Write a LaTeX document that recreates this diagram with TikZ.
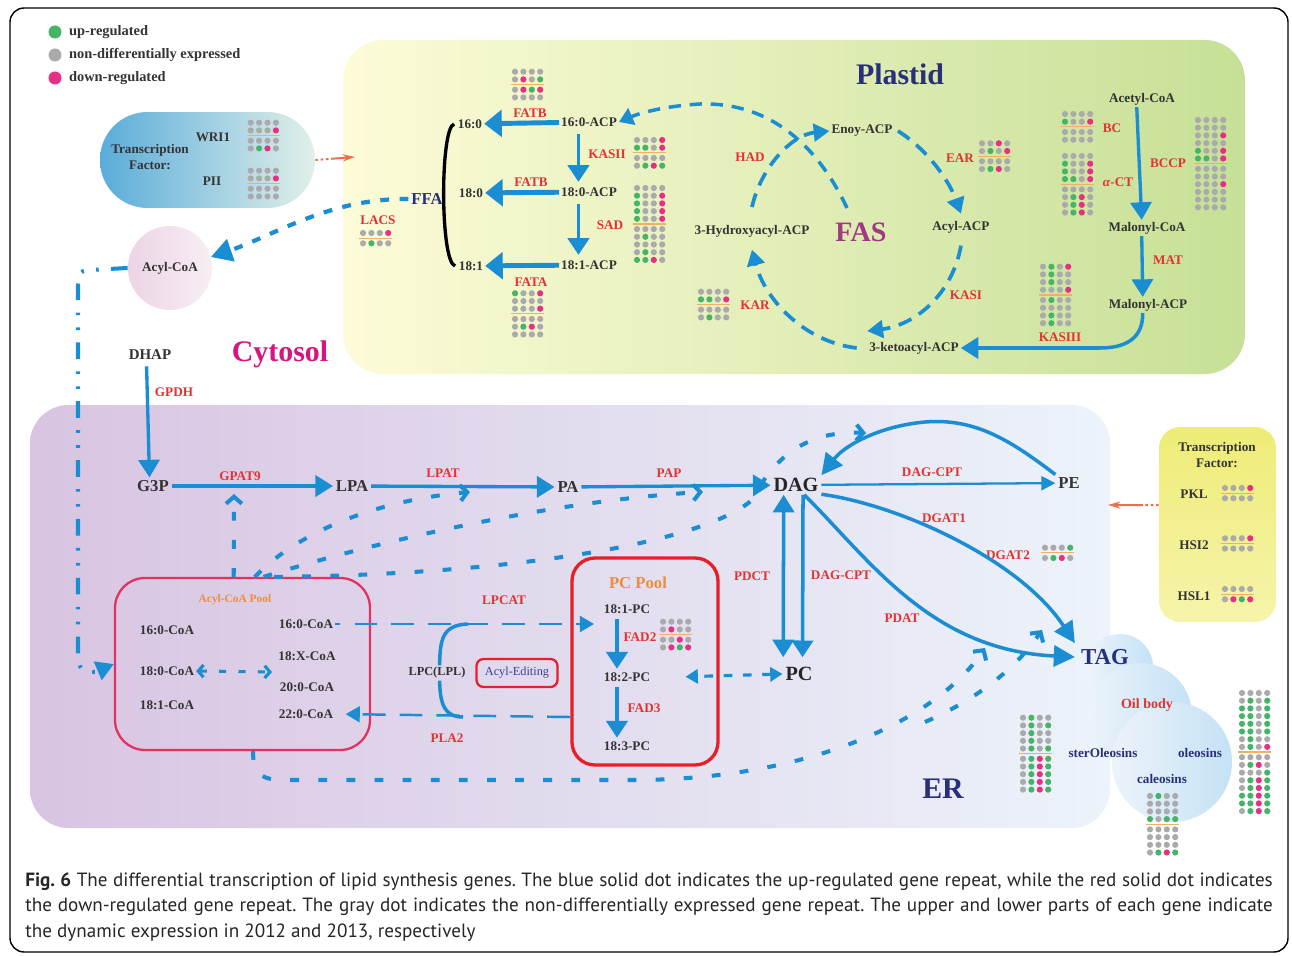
\documentclass[tikz,border=0pt]{standalone}
\usepackage{fontspec}
\setmainfont{Liberation Serif}
\newfontfamily\capfont{PT Sans}
\usetikzlibrary{arrows.meta}

\definecolor{flowblue}{RGB}{27,141,210}
\definecolor{enzred}{RGB}{226,50,50}
\definecolor{navy}{RGB}{40,48,122}
\definecolor{editnavy}{RGB}{62,62,150}
\definecolor{dotg}{RGB}{170,170,172}
\definecolor{dotu}{RGB}{70,180,102}
\definecolor{dotd}{RGB}{230,48,132}
\definecolor{sepor}{RGB}{240,176,96}
\definecolor{plastidL}{RGB}{253,251,216}
\definecolor{plastidR}{RGB}{198,224,150}
\definecolor{erL}{RGB}{216,196,226}
\definecolor{erR}{RGB}{236,243,250}
\definecolor{oilR}{RGB}{196,226,246}
\definecolor{tfblueL}{RGB}{90,172,218}
\definecolor{tfblueR}{RGB}{226,240,234}
\definecolor{tfyel}{RGB}{238,236,118}
\definecolor{tfyelR}{RGB}{246,244,170}
\definecolor{acylpinkL}{RGB}{236,212,228}
\definecolor{acylpinkR}{RGB}{248,238,244}
\definecolor{poolred}{RGB}{226,50,96}
\definecolor{pcred}{RGB}{228,32,42}
\definecolor{poolorange}{RGB}{240,140,60}
\definecolor{faspurple}{RGB}{160,56,130}
\definecolor{cytomag}{RGB}{214,22,128}
\definecolor{tfarrow}{RGB}{236,110,80}

\tikzset{
  lbl/.style={font=\bfseries\fontsize{7.5}{9}\selectfont, text=black!80, inner sep=1pt},
  enz/.style={lbl, text=enzred},
  met/.style={font=\bfseries\fontsize{9.5}{11}\selectfont, text=black!80, inner sep=1.5pt},
  keymet/.style={font=\bfseries\fontsize{11.5}{13}\selectfont, text=black!85, inner sep=1.5pt},
  region/.style={font=\bfseries\fontsize{17}{19}\selectfont},
  flow/.style={draw=flowblue, line width=2.2pt, -{Triangle[length=9.5pt,width=12pt]}},
  fatflow/.style={draw=flowblue, line width=2.8pt, -{Triangle[length=10pt,width=15pt]}},
  midflow/.style={draw=flowblue, line width=1.9pt, -{Triangle[length=10pt,width=12pt]}},
  thinflow/.style={draw=flowblue, line width=1.3pt, -{Triangle[length=8pt,width=8pt]}},
  cycdash/.style={draw=flowblue, line width=2.1pt, dash pattern=on 8pt off 5pt, -{Triangle[length=9pt,width=10pt]}},
  dashflow/.style={draw=flowblue, line width=2.3pt, dash pattern=on 5pt off 11pt, -{Straight Barb[length=4pt,width=9pt]}},
  longdash/.style={draw=flowblue, line width=1.4pt, dash pattern=on 13pt off 8pt, -{Triangle[length=8pt,width=9pt]}},
  tfdash/.style={draw=tfarrow, line width=1.1pt, dash pattern=on 1.5pt off 1.5pt on 1.5pt off 1.5pt on 1.5pt off 1.5pt on 40pt off 0pt, -{Stealth[length=7pt,width=4pt]}},
  oilbubble/.style={left color=erR, right color=oilR},
}

% dot grid: first dot x, y, rows above the line, upper rows, lower rows
\newcommand{\dotgrid}[5]{%
  \foreach \dr [count=\ri] in {#4} {
    \foreach \dc [count=\ci] in \dr
      \fill[fill=dot\dc] ({#1+8.4*(\ci-1)},{#2+7.7*(\ri-1)}) circle (3.1);
  }
  \draw[sepor, line width=0.7pt] ({#1-4},{#2+7.7*(#3-1)+5.15}) -- ({#1+29.2},{#2+7.7*(#3-1)+5.15});
  \foreach \dr [count=\ri] in {#5} {
    \foreach \dc [count=\ci] in \dr
      \fill[fill=dot\dc] ({#1+8.4*(\ci-1)},{#2+7.7*(\ri+#3-1)+2.6}) circle (3.1);
  }
}

\begin{document}
\begin{tikzpicture}[x=0.02cm,y=-0.02cm]
\useasboundingbox (0,0) rectangle (1292,956);
\fill[white] (0,0) rectangle (1292,956);
\draw[line width=0.8pt, rounded corners=8pt] (10,8) rectangle (1288,952);

% regions
\shade[left color=plastidL, right color=plastidR, rounded corners=23pt] (343,40) rectangle (1245,374);
\shade[left color=erL, right color=erR, rounded corners=22pt] (30,405) rectangle (1110,828);
\shade[oilbubble] (1120,667) circle (33);
\shade[oilbubble] (1140,715) circle (52);
\shade[oilbubble] (1172,762) circle (60);

% legend
\foreach \col/\txt [count=\k] in {dotu/up-regulated, dotg/non-differentially expressed, dotd/down-regulated} {
  \fill[\col] (55,{9+23*\k}) circle (6.5);
  \node[lbl, font=\bfseries\fontsize{8.2}{9}\selectfont, anchor=west] (leg\k) at (67,{9+23*\k}) {\txt};
}

% transcription factors (plastid)
\node[left color=tfblueL, right color=tfblueR, rounded corners=27pt, minimum width=4.3cm, minimum height=1.92cm] (tfleft) at (207.5,160) {};
\node[lbl, align=center] (tftitle) at (150,157) {Transcription\\Factor:};
\node[lbl] (wri1) at (213,137) {WRI1};
\node[lbl] (pii) at (212,181) {PII};
\dotgrid{250.7}{122.7}{2}{{g,g,g,g},{g,g,g,d}}{{g,g,g,g},{g,u,d,g}}
\dotgrid{250.7}{170.7}{2}{{g,g,g,g},{g,g,g,d}}{{g,g,g,g},{g,g,g,g}}
\coordinate (plastidin) at (355,157);
\draw[tfdash] (tfleft.east) -- (plastidin);

% plastid
\node[region, text=navy] (plastid) at (900,74) {Plastid};
\node[lbl] (fa160) at (470,124) {16:0};
\node[lbl] (fa180) at (471,193) {18:0};
\node[lbl] (fa181) at (471,266) {18:1};
\node[lbl] (acp160) at (589,122) {16:0-ACP};
\node[lbl] (acp180) at (589,192) {18:0-ACP};
\node[lbl] (acp181) at (589,265) {18:1-ACP};
\node[enz] (fatb1) at (530,113) {FATB};
\node[enz] (fatb2) at (531,182) {FATB};
\node[enz] (fata) at (531,282) {FATA};
\node[enz] (kasii) at (607,154) {KASII};
\node[enz] (sad) at (610,225) {SAD};
\draw[fatflow] (acp160) -- (fa160);
\draw[fatflow] (acp180) -- (fa180);
\draw[fatflow] (acp181) -- (fa181);
\draw[flow, shorten <=3pt, shorten >=2pt] ([xshift=-6pt]acp160.south) -- ([xshift=-6pt]acp180.north);
\draw[flow, shorten <=3pt, shorten >=2pt] ([xshift=-6pt]acp180.south) -- ([xshift=-6pt]acp181.north);
\draw[line width=1.9pt] ([xshift=-1pt]fa160.west) .. controls (440,128) and (440,262) .. ([xshift=-1pt]fa181.west);
\dotgrid{515}{71.7}{2}{{g,g,g,g},{g,d,g,u}}{{g,d,u,d},{g,g,g,g}}
\dotgrid{637}{140}{2}{{g,g,g,d},{u,u,g,d}}{{g,g,g,g},{g,u,d,u}}
\dotgrid{637}{188}{5}{{g,g,g,g},{u,g,g,d},{u,g,g,d},{u,g,g,d},{u,g,g,d}}{{g,g,g,g},{g,u,g,g},{g,g,g,g},{g,u,g,g},{u,u,d,g}}
\dotgrid{515}{293.3}{3}{{u,g,g,d},{g,g,g,g},{g,g,g,d}}{{g,g,g,g},{g,u,d,g},{g,g,g,g}}

% FFA and Acyl-CoA
\node[met, text=navy] (ffa) at (427,199) {FFA};
\node[enz] (lacs) at (378,220) {LACS};
\dotgrid{363}{233}{1}{{g,g,g,d}}{{g,u,g,g}}
\node[circle, minimum size=1.68cm, left color=acylpinkL, right color=acylpinkR, lbl] (acylcoa) at (170,268) {Acyl-CoA};
\draw[draw=flowblue, line width=2.4pt, dash pattern=on 5pt off 6pt, -{Triangle[length=12pt,width=13pt]}] (ffa.west) .. controls (330,198) and (275,235) .. (acylcoa.15);

% FAS cycle
\node[lbl] (enoy) at (862,131) {Enoy-ACP};
\node[lbl] (acyl) at (961,227) {Acyl-ACP};
\node[lbl] (keto) at (914,348) {3-ketoacyl-ACP};
\node[lbl] (hydroxy) at (752,231) {3-Hydroxyacyl-ACP};
\node[font=\bfseries\fontsize{16}{18}\selectfont, text=faspurple] (fas) at (861,232) {FAS};
\node[enz] (had) at (750,157) {HAD};
\node[enz] (ear) at (960,158) {EAR};
\node[enz] (kasi) at (966,295) {KASI};
\node[enz] (kar) at (755,305) {KAR};
\dotgrid{982}{143.3}{2}{{g,g,d,g},{g,u,g,d}}{{g,g,g,g},{g,u,d,g}}
\dotgrid{701}{291.7}{2}{{g,g,g,g},{u,u,g,d}}{{g,g,g,g},{g,u,g,g}}
\draw[cycdash] ([xshift=2pt]enoy.east) .. controls (925,148) and (948,178) .. ([yshift=3pt]acyl.north);
\draw[cycdash] ([yshift=-6pt]acyl.south) .. controls (952,295) and (915,325) .. ([yshift=5pt]keto.north west);
\draw[cycdash] ([xshift=-6pt]keto.west) .. controls (805,342) and (765,300) .. ([yshift=-6pt]hydroxy.south);
\draw[cycdash] ([yshift=9pt]hydroxy.north) .. controls (760,170) and (790,135) .. (enoy.west);
\coordinate (fasin) at (847,208);
\draw[draw=flowblue, line width=2pt, dash pattern=on 7pt off 5pt, -{Triangle[length=8pt,width=10pt]}] (fasin) .. controls (815,140) and (765,102) .. (700,104) .. controls (665,106) and (640,113) .. (acp160.east);

% acetyl-CoA to malonyl-ACP
\node[lbl] (acetyl) at (1142,99) {Acetyl-CoA};
\node[lbl] (malcoa) at (1147,228) {Malonyl-CoA};
\node[lbl] (malacp) at (1148,305) {Malonyl-ACP};
\node[enz] (bc) at (1112,128) {BC};
\node[enz] (act) at (1118,182) {\textit{α}-CT};
\node[enz] (bccp) at (1168,163) {BCCP};
\node[enz] (mat) at (1168,260) {MAT};
\node[enz] (kasiii) at (1060,337) {KASIII};
\draw[midflow] ([xshift=-3pt]acetyl.south) -- ([xshift=-3pt]malcoa.north);
\draw[midflow] ([xshift=-3pt]malcoa.south) -- ([xshift=-3pt]malacp.north);
\draw[draw=flowblue, line width=2pt, -{Triangle[length=10pt,width=12pt]}] ([xshift=-3pt]malacp.south) .. controls (1143,335) and (1130,348) .. (1100,348) -- (keto.east);
\dotgrid{1065}{114}{2}{{g,g,g,g},{u,g,g,d}}{{g,g,g,g},{g,g,g,g}}
\dotgrid{1065}{156}{4}{{g,g,g,g},{u,g,g,d},{u,g,g,d},{u,u,g,d}}{{g,g,g,g},{g,u,d,g},{g,u,d,g},{g,u,d,g}}
\dotgrid{1198}{120}{6}{{g,g,g,g},{g,g,g,g},{g,g,g,d},{g,g,g,g},{u,g,g,d},{u,u,g,d}}{{g,g,g,g},{g,g,g,g},{g,g,g,d},{g,g,g,g},{g,g,g,g},{g,g,g,g}}
\dotgrid{1043}{266.7}{4}{{g,u,g,d},{g,u,g,g},{g,u,g,g},{g,g,g,d}}{{g,u,g,g},{g,g,g,g},{g,u,g,g},{g,u,g,g}}

% cytosol and ER
\node[region, text=cytomag] (cytosol) at (280,354) {Cytosol};
\node[region, text=navy] (er) at (943,789) {ER};
\node[met, font=\bfseries\fontsize{8.5}{10}\selectfont] (dhap) at (150,355) {DHAP};
\node[enz] (gpdh) at (174,392) {GPDH};
\node[met] (g3p) at (153,486) {G3P};
\node[met] (lpa) at (352,486) {LPA};
\node[met] (pa) at (568,487) {PA};
\node[keymet] (dag) at (796,485) {DAG};
\node[met] (pe) at (1069,483) {PE};
\node[keymet] (pc) at (799,674) {PC};
\node[font=\bfseries\fontsize{13}{15}\selectfont, text=navy] (tag) at (1105,657) {TAG};
\node[enz] (gpat9) at (240,476) {GPAT9};
\node[enz] (lpat) at (443,473) {LPAT};
\node[enz] (pap) at (669,473) {PAP};
\node[enz] (dagcpt1) at (932,472) {DAG-CPT};
\node[enz] (pdct) at (752,576) {PDCT};
\node[enz] (dagcpt2) at (841,575) {DAG-CPT};
\node[enz] (dgat1) at (944,518) {DGAT1};
\node[enz] (dgat2) at (1008,555) {DGAT2};
\node[enz] (pdat) at (902,618) {PDAT};
\dotgrid{1045}{547.7}{1}{{g,g,g,u}}{{g,u,d,g}}
\draw[midflow, shorten <=2pt] ([xshift=-2pt]dhap.south) -- ([xshift=-2pt]g3p.north);
\draw[midflow] (g3p) -- (lpa);
\draw[midflow] (lpa) -- (pa);
\draw[midflow] (pa) -- (dag);
\draw[thinflow] (dag) -- (pe);
\draw[draw=flowblue, line width=2pt, -{Triangle[length=12pt,width=12pt]}] (pe.north west) .. controls (1010,440) and (975,418) .. (925,422) .. controls (880,426) and (845,445) .. (dag.north east);
\draw[flow, line width=2pt, {Triangle[length=10pt,width=12pt]}-{Triangle[length=10pt,width=12pt]}, shorten >=4pt] ([xshift=-7pt]dag.south) -- ([xshift=-9pt]pc.north);
\draw[flow, line width=2pt, shorten >=4pt] ([xshift=4pt]dag.south) -- ([xshift=2pt]pc.north);
\draw[draw=flowblue, line width=2pt, -{Triangle[length=12pt,width=12pt]}] (dag.-20) .. controls (900,505) and (1020,560) .. (tag.north west);
\draw[draw=flowblue, line width=2pt, -{Triangle[length=12pt,width=12pt]}] (dag.-50) .. controls (870,560) and (930,650) .. (tag.west);

% acyl-CoA pool
\node[draw=poolred, line width=1.3pt, rounded corners=17pt, minimum width=5.1cm, minimum height=3.44cm] (pool) at (242.5,664) {};
\node[font=\bfseries\fontsize{6.5}{8}\selectfont, text=poolorange] (pooltitle) at (235,600) {Acyl-CoA Pool};
\node[lbl] (c160l) at (167,630) {16:0-CoA};
\node[lbl] (c180l) at (167,671) {18:0-CoA};
\node[lbl] (c181l) at (167,705) {18:1-CoA};
\node[lbl] (c160r) at (306,624) {16:0-CoA};
\node[lbl] (c18xr) at (307,656) {18:X-CoA};
\node[lbl] (c200r) at (307,687) {20:0-CoA};
\node[lbl] (c220r) at (306,714) {22:0-CoA};
\coordinate (mixpt) at (272,672);
\draw[dashflow, line width=1.8pt, dash pattern=on 4pt off 7pt, {Straight Barb[length=3pt,width=7pt]}-{Straight Barb[length=3pt,width=7pt]}] (c180l.east) -- (mixpt);
\draw[draw=flowblue, line width=2.3pt, dash pattern=on 9.5pt off 7pt on 1.5pt off 7pt on 1.5pt off 7pt, -{Triangle[length=10pt,width=11pt]}] (acylcoa.west) -- (90,270) .. controls (78,270) and (78,276) .. (78,290) -- (78,655) .. controls (78,668) and (82,672) .. (95,672) -- (pool.west);

% PC pool and acyl editing
\node[draw=pcred, line width=1.9pt, rounded corners=13pt, minimum width=2.92cm, minimum height=4.14cm] (pcpool) at (645,661.5) {};
\node[font=\bfseries\fontsize{9.5}{11}\selectfont, text=poolorange] (pctitle) at (638,583) {PC Pool};
\node[lbl] (pc181) at (627,609) {18:1-PC};
\node[lbl] (pc182) at (627,677) {18:2-PC};
\node[lbl] (pc183) at (627,746) {18:3-PC};
\node[enz] (fad2) at (640,637) {FAD2};
\node[enz] (fad3) at (644,708) {FAD3};
\dotgrid{663}{621.7}{2}{{g,g,g,g},{g,d,g,g}}{{g,g,d,g},{g,d,u,d}}
\draw[flow, shorten <=2pt, shorten >=1pt] ([xshift=-5.7pt]pc181.south) -- ([xshift=-5.7pt]pc182.north);
\draw[flow, shorten <=2pt, shorten >=1pt] ([xshift=-5.7pt]pc182.south) -- ([xshift=-5.7pt]pc183.north);
\draw[draw=flowblue, line width=1.8pt, dash pattern=on 5pt off 6pt, {Triangle[length=7pt,width=8pt]}-{Triangle[length=7pt,width=8pt]}, shorten >=5pt] (pc.west) -- ([xshift=14pt]pc182.east);
\node[lbl, font=\bfseries\fontsize{7}{8}\selectfont] (lpc) at (437,673) {LPC(LPL)};
\node[draw=pcred, line width=1.3pt, rounded corners=4pt, minimum width=1.62cm, minimum height=0.56cm, text=editnavy, font=\fontsize{7}{8}\selectfont, inner sep=1pt] (edit) at (517,673) {Acyl-Editing};
\node[enz] (lpcat) at (504,600) {LPCAT};
\node[enz] (pla2) at (447,738) {PLA2};
\coordinate (lpcatend) at (594,624);
\coordinate (pla2start) at (570,717);
\coordinate (lpcjoin) at (468,624);
\coordinate (pla2join) at (463,717);
\draw[longdash, dash phase=10pt] (c160r.east) -- (lpcatend);
\draw[longdash, shorten >=6pt] (pla2start) -- (c220r.east);
\draw[flowblue, line width=2pt] (lpcjoin) .. controls (442,625) and (440,640) .. ([xshift=1.5pt]lpc.north);
\draw[flowblue, line width=2pt] ([xshift=1.5pt]lpc.south) .. controls (440,705) and (445,717) .. (pla2join);

% acyl-CoA routes from the pool
\coordinate (gpatin) at (234,494);
\coordinate (lpatin) at (470,492);
\coordinate (papin) at (703,492);
\coordinate (dagloop) at (866,433);
\coordinate (pdatin) at (985,648);
\coordinate (dgatin) at (1042,630);
\coordinate (branch) at (925,722);
\draw[dashflow] ([xshift=-5pt]pool.north) -- (gpatin);
\draw[dashflow] ([xshift=7pt]pool.north) .. controls (300,530) and (380,500) .. (lpatin);
\draw[dashflow] ([xshift=12pt]pool.north) .. controls (380,540) and (560,500) .. (papin);
\draw[dashflow] ([xshift=18pt]pool.north) .. controls (500,575) and (700,545) .. (752,500) .. controls (770,465) and (800,430) .. (dagloop);
\draw[dashflow] ([xshift=6pt]pool.south) .. controls (253,775) and (262,780) .. (285,780) -- (640,780) .. controls (820,778) and (940,715) .. (pdatin);
\draw[dashflow] (branch) .. controls (975,700) and (1015,670) .. (dgatin);

% transcription factors (ER)
\node[top color=tfyel, bottom color=tfyelR, rounded corners=12pt, minimum width=2.34cm, minimum height=3.9cm] (tfright) at (1217.5,524.5) {};
\node[lbl, align=center] (tftitle2) at (1217,455) {Transcription\\Factor:};
\node[lbl] (pkl) at (1194,494) {PKL};
\node[lbl] (hsi2) at (1194,545) {HSI2};
\node[lbl] (hsl1) at (1194,596) {HSL1};
\dotgrid{1225}{488}{1}{{g,g,g,d}}{{g,g,g,g}}
\dotgrid{1225}{538.3}{1}{{g,g,g,d}}{{g,g,g,g}}
\dotgrid{1225}{589}{1}{{g,g,g,g}}{{g,d,u,d}}
\coordinate (erin) at (1108,505);
\draw[tfdash] ([yshift=11pt]tfright.west) -- (erin);

% oil body
\node[enz, font=\bfseries\fontsize{8}{9}\selectfont] (oilbody) at (1147,705) {Oil body};
\node[lbl, text=navy] (steroleo) at (1103,753) {sterOleosins};
\node[lbl, text=navy] (oleo) at (1200,753) {oleosins};
\node[lbl, text=navy] (caleo) at (1162,779) {caleosins};
\dotgrid{1023}{717.7}{5}{{g,u,g,g},{g,u,g,u},{g,u,g,g},{g,u,g,g},{g,u,g,u}}{{g,u,d,u},{g,u,d,u},{g,u,d,u},{g,u,d,u},{g,u,d,u}}
\dotgrid{1242}{693}{8}{{g,g,g,g},{g,u,g,u},{u,u,g,u},{u,u,g,u},{u,u,g,u},{u,u,g,u},{g,u,g,g},{g,u,g,d}}{{g,g,g,g},{g,u,d,g},{g,g,g,u},{g,u,d,u},{g,u,d,u},{u,u,d,u},{u,u,d,u},{g,u,d,u}}
\dotgrid{1150}{796}{4}{{g,u,g,g},{g,g,g,g},{g,g,g,g},{u,g,u,u}}{{g,g,g,g},{g,g,g,g},{g,g,g,g},{g,u,d,u}}

% caption
\node[anchor=north west, inner sep=0pt, text width=710pt, align=justify, text=black!85, font=\capfont\fontsize{10.9}{14.7}\selectfont] (caption) at (25,872) {\frenchspacing\hyphenpenalty=10000 \textbf{Fig. 6} The differential transcription of lipid synthesis genes. The blue solid dot indicates the up-regulated gene repeat, while the red solid dot indicates\linebreak the down-regulated gene repeat. The gray dot indicates the non-differentially expressed gene repeat. The upper and lower parts of each gene indicate\linebreak the dynamic expression in 2012 and 2013, respectively};

\end{tikzpicture}
\end{document}
